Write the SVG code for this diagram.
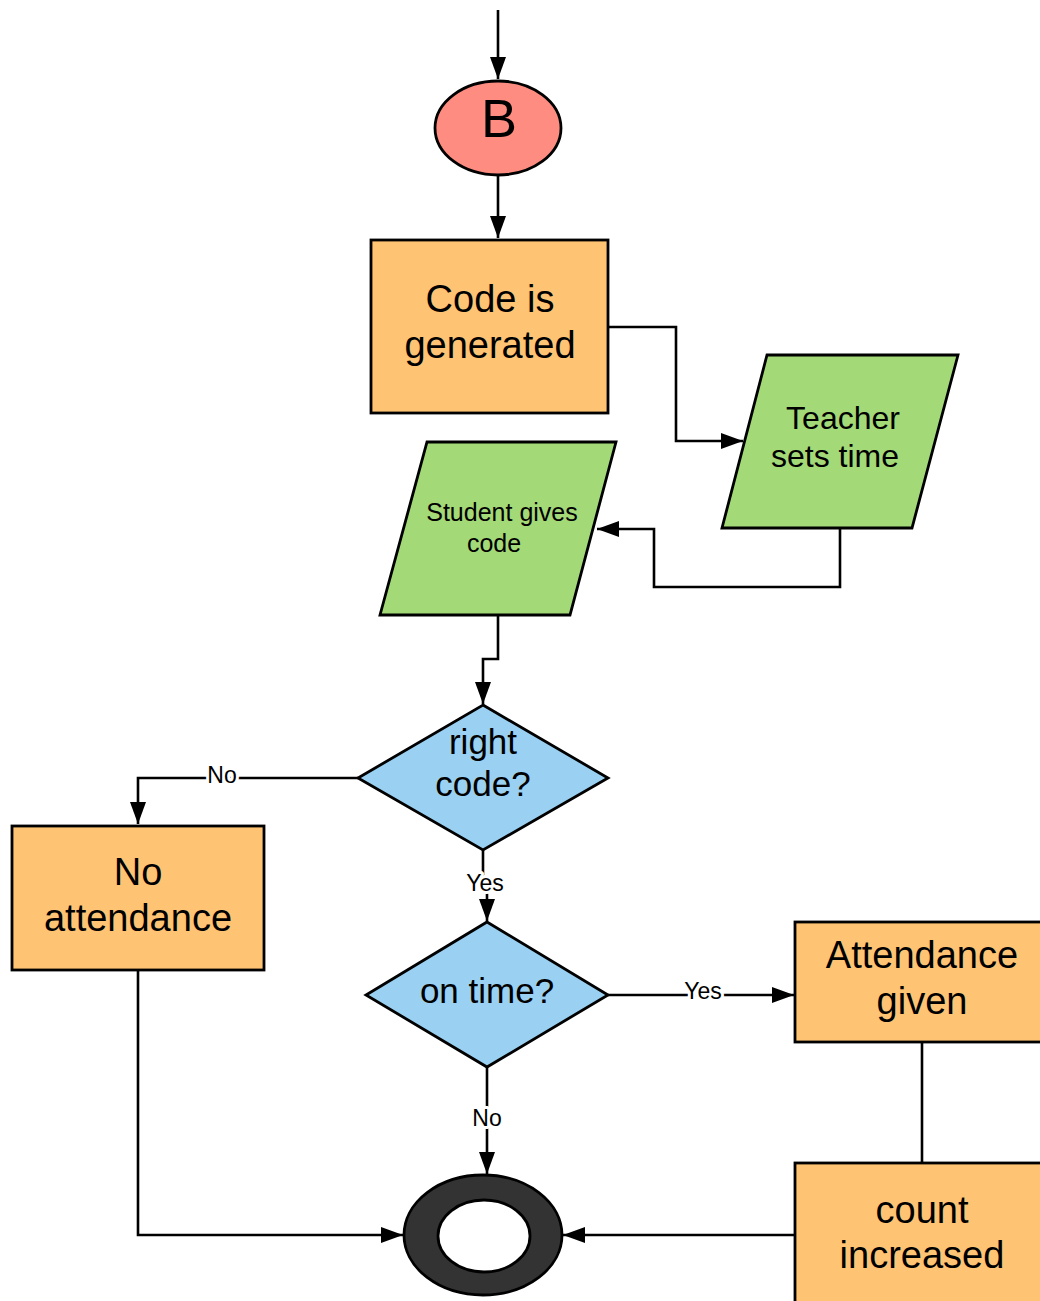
<svg xmlns="http://www.w3.org/2000/svg" width="1040" height="1301" viewBox="0 0 1040 1301">
  <style>
    .shape { stroke: #000; stroke-width: 2.8; }
    .proc { fill: #FFC374; }
    .io { fill: #A3D977; }
    .dec { fill: #9AD1F2; }
    .conn { fill: none; stroke: #000; stroke-width: 2.6; }
    text { font-family: "Liberation Sans", Arial, sans-serif; fill: #000; text-anchor: middle; }
    .big { font-size: 38px; }
    .lbl { font-size: 23px; stroke: #fff; stroke-width: 6; paint-order: stroke; stroke-linejoin: round; }
  </style>
  <defs>
    <marker id="arrow" viewBox="0 0 22 16" refX="22" refY="8" markerWidth="22" markerHeight="16" markerUnits="userSpaceOnUse" orient="auto">
      <path d="M0,0 L22,8 L0,16 Z" fill="#000"/>
    </marker>
  </defs>

  <rect width="1040" height="1301" fill="#fff"/>

  <!-- connectors -->
  <g id="connectors">
    <path class="conn" d="M498,10 V79" marker-end="url(#arrow)"/>
    <path class="conn" d="M498,176 V238" marker-end="url(#arrow)"/>
    <path class="conn" d="M608,327 H676 V441 H743" marker-end="url(#arrow)"/>
    <path class="conn" d="M840,528 V587 H654 V529 H597" marker-end="url(#arrow)"/>
    <path class="conn" d="M498,615 V659 H483 V704" marker-end="url(#arrow)"/>
    <path class="conn" d="M358,778 H138 V824" marker-end="url(#arrow)"/>
    <path class="conn" d="M483,850 V883 H487 V921" marker-end="url(#arrow)"/>
    <path class="conn" d="M608,995 H794" marker-end="url(#arrow)"/>
    <path class="conn" d="M487,1067 V1174" marker-end="url(#arrow)"/>
    <path class="conn" d="M922,1042 V1163"/>
    <path class="conn" d="M138,970 V1235 H403" marker-end="url(#arrow)"/>
    <path class="conn" d="M795,1235 H563" marker-end="url(#arrow)"/>
    <text class="lbl" x="222" y="783">No</text>
    <text class="lbl" x="485" y="891">Yes</text>
    <text class="lbl" x="703" y="999">Yes</text>
    <text class="lbl" x="487" y="1126">No</text>
  </g>

  <g id="start-b">
    <ellipse class="shape" cx="498" cy="128" rx="63" ry="47" fill="#FF8C80"/>
    <text x="499" y="137" style="font-size:54px">B</text>
  </g>

  <g id="code-generated">
    <rect class="shape proc" x="371" y="240" width="237" height="173"/>
    <text class="big" x="490" y="312">Code is</text>
    <text class="big" x="490" y="358">generated</text>
  </g>

  <g id="teacher-sets-time">
    <polygon class="shape io" points="767,355 958,355 912,528 722,528"/>
    <text x="843" y="429" style="font-size:32px">Teacher</text>
    <text x="835" y="467" style="font-size:32px">sets time</text>
  </g>

  <g id="student-gives-code">
    <polygon class="shape io" points="427,442 616,442 570,615 380,615"/>
    <text x="502" y="521" style="font-size:25px">Student gives</text>
    <text x="494" y="552" style="font-size:25px">code</text>
  </g>

  <g id="right-code">
    <polygon class="shape dec" points="483,705 608,778 483,850 358,778"/>
    <text x="483" y="754" style="font-size:35px">right</text>
    <text x="483" y="796" style="font-size:35px">code?</text>
  </g>

  <g id="no-attendance">
    <rect class="shape proc" x="12" y="826" width="252" height="144"/>
    <text class="big" x="138" y="885">No</text>
    <text class="big" x="138" y="931">attendance</text>
  </g>

  <g id="on-time">
    <polygon class="shape dec" points="487,922 608,995 487,1067 366,995"/>
    <text x="487" y="1003" style="font-size:35px">on time?</text>
  </g>

  <g id="attendance-given">
    <rect class="shape proc" x="795" y="922" width="250" height="120"/>
    <text class="big" x="922" y="968">Attendance</text>
    <text class="big" x="922" y="1014">given</text>
  </g>

  <g id="count-increased">
    <rect class="shape proc" x="795" y="1163" width="250" height="145"/>
    <text class="big" x="922" y="1223">count</text>
    <text class="big" x="922" y="1268">increased</text>
  </g>

  <g id="end">
    <ellipse class="shape" cx="483" cy="1235" rx="79" ry="60" fill="#333"/>
    <ellipse class="shape" cx="484" cy="1236" rx="46" ry="36" fill="#fff"/>
  </g>
</svg>
